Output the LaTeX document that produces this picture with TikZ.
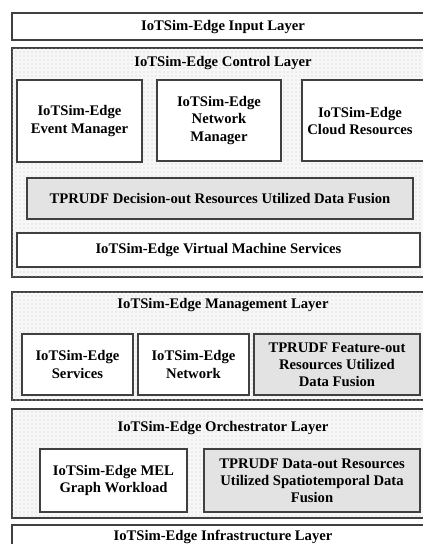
\documentclass[tikz,border=0pt]{standalone}
\usepackage{fontspec}
\setmainfont{Liberation Serif}
\usetikzlibrary{patterns}

\tikzset{
  layer/.style={draw=black!75, line width=0.9pt, fill=gray!6, postaction={pattern=dots, pattern color=gray!45}},
  plainlayer/.style={draw=black!75, line width=0.9pt, fill=white},
  boxw/.style={draw=black!75, line width=0.9pt, fill=white},
  boxg/.style={draw=black!75, line width=0.9pt, fill=gray!22},
  txt/.style={inner sep=0.75pt, align=center, font=\fontsize{11}{12.8}\selectfont\bfseries}
}

\begin{document}
\begin{tikzpicture}[x=0.75pt,y=0.75pt,yscale=-1,xscale=1]
\path[use as bounding box, clip] (0,0) rectangle (423,544);

%Shape: Layers
\draw[plainlayer] (12,13) rectangle (428,40);
\draw[layer] (12,48) rectangle (428,277);
\draw[layer] (12,292) rectangle (428,400);
\draw[layer] (12,409) rectangle (428,518);
\draw[plainlayer] (12,525) rectangle (428,565);

% Text Node: layer titles
\node[txt] (input) at (223,27) {IoTSim-Edge Input Layer};
\node[txt] (control) at (223,63) {IoTSim-Edge Control Layer};
\node[txt] (manage) at (223,305) {IoTSim-Edge Management Layer};
\node[txt] (orch) at (223,428) {IoTSim-Edge Orchestrator Layer};
\node[txt] (infra) at (223,537) {IoTSim-Edge Infrastructure Layer};

%Shape: Control layer boxes
\draw[boxw] (17,80) rectangle node[txt] (evtman) {IoTSim-Edge\\Event Manager} (142,162);
\draw[boxw] (157,80) rectangle node[txt] (netman) {IoTSim-Edge\\Network\\Manager} (281,161);
\draw[boxw] (302,80) rectangle (424,161);
\node[txt] (cloudres) at (360,121) {IoTSim-Edge\\Cloud Resources};
\draw[boxg] (27,178) rectangle node[txt] (decfusion) {TPRUDF Decision-out Resources Utilized Data Fusion} (413,219);
\draw[boxw] (17,233) rectangle node[txt] (vmserv) {IoTSim-Edge Virtual Machine Services} (420,267);

%Shape: Management layer boxes
\draw[boxw] (22,334) rectangle node[txt] (services) {IoTSim-Edge\\Services} (133,395);
\draw[boxw] (138,334) rectangle node[txt] (network) {IoTSim-Edge\\Network} (249,395);
\draw[boxg] (254,334) rectangle node[txt] (featfusion) {TPRUDF Feature-out\\Resources Utilized\\Data Fusion} (420,395);

%Shape: Orchestrator layer boxes
\draw[boxw] (40,449) rectangle node[txt] (melgraph) {IoTSim-Edge MEL\\Graph Workload} (187,512);
\draw[boxg] (204,449) rectangle node[txt] (datafusion) {TPRUDF Data-out Resources\\Utilized Spatiotemporal Data\\Fusion} (420,512);

\end{tikzpicture}
\end{document}
